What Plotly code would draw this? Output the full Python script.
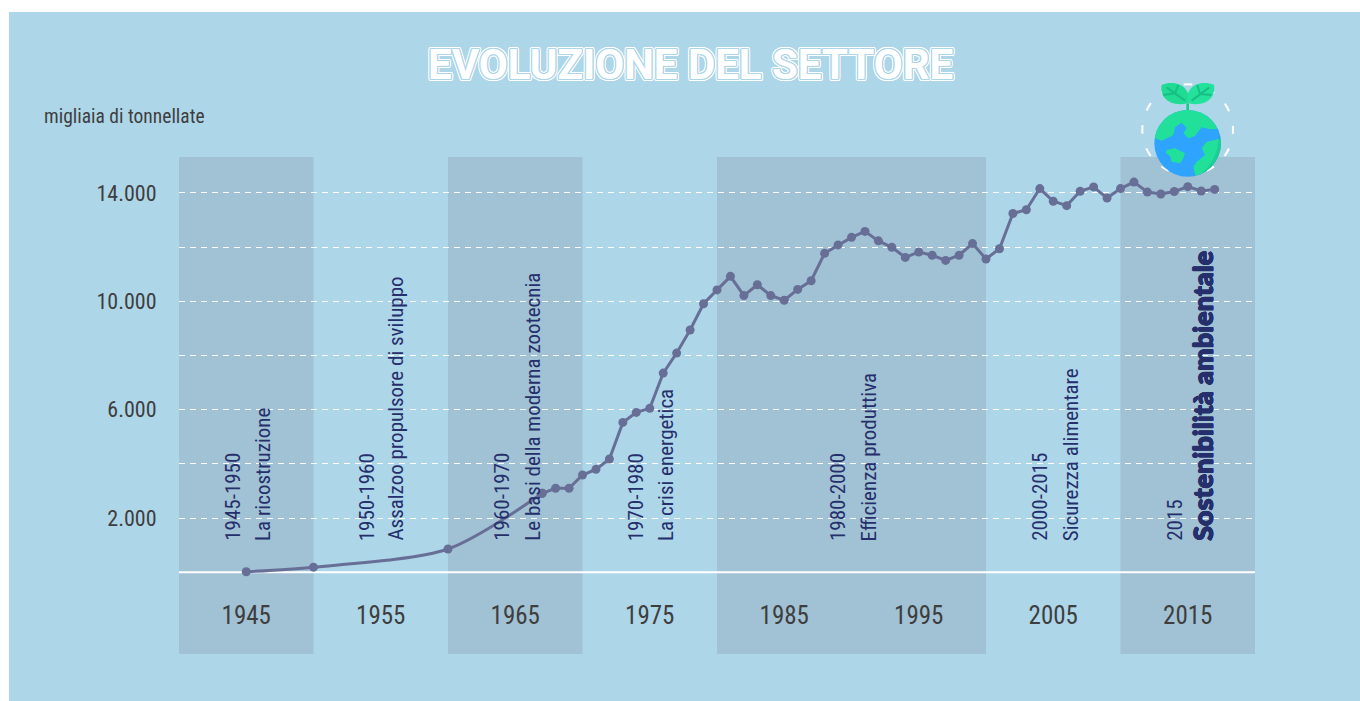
import base64
import math
import plotly.graph_objects as go

FONT = "Roboto Condensed"
BG = "#AED6E9"
TEXT = "#3E3E3E"
NAVY = "#252F6B"
LINE = "#686F96"

curve_years = [1945, 1950, 1960, 1967]
curve_values = [20, 190, 860, 2915]
years = list(range(1967, 2018))
values = [2915, 3100, 3100, 3590, 3800, 4180, 5530, 5900, 6050, 7350,
          8090, 8940, 9910, 10420, 10920, 10210, 10610, 10210, 10040, 10440,
          10760, 11770, 12080, 12360, 12580, 12230, 11990, 11620, 11820, 11700,
          11510, 11700, 12130, 11560, 11940, 13240, 13380, 14160, 13690, 13530,
          14060, 14220, 13810, 14160, 14400, 14030, 13960, 14050, 14230, 14070, 14130]

band_spans = [(1940, 1950), (1960, 1970), (1980, 2000), (2010, 2020)]
x_ticks = [1945, 1955, 1965, 1975, 1985, 1995, 2005, 2015]
y_ticks = [2000, 4000, 6000, 8000, 10000, 12000, 14000]
y_labels = ["2.000", "", "6.000", "", "10.000", "", "14.000"]
periods = ["1945-1950", "1950-1960", "1960-1970", "1970-1980", "1980-2000", "2000-2015", "2015"]
names = ["La ricostruzione", "Assalzoo propulsore di sviluppo", "Le basi della moderna zootecnia",
         "La crisi energetica", "Efficienza produttiva", "Sicurezza alimentare", "Sostenibilità ambientale"]
period_x = [1944, 1954, 1964, 1974, 1989, 2004, 2014]
name_x = [1946.2, 1956.1, 1966.3, 1976.2, 1991.3, 2006.3, 2016.05]

L, T, R, B = 179, 157, 1255, 654
W, H = R - L, B - T
def px(x): return (x - L) / W
def py(y): return (B - y) / H

def ring(radius, color, n=16):
    return ", ".join("%.2fpx %.2fpx 0 %s" % (radius * math.cos(2 * math.pi * i / n),
                                             radius * math.sin(2 * math.pi * i / n), color) for i in range(n))
inline_shadow = ring(1.1, BG) + ", " + ring(2.2, "white")
bold_shadow = ring(0.5, NAVY, 8)

icon = """<svg xmlns='http://www.w3.org/2000/svg' viewBox='0 0 420 360'>
<defs><clipPath id='c'><circle cx='203' cy='220' r='100'/></clipPath></defs>
<circle cx='203' cy='179' r='136' fill='none' stroke='white' stroke-width='6' stroke-dasharray='26 45.2' stroke-dashoffset='13'/>
<path d='M203 100V125' stroke='#1BC98A' stroke-width='8'/>
<path d='M203 100C150 112 118 82 125 45C165 28 218 50 203 100Z' fill='#1FDB94'/>
<path d='M205 100C258 112 288 82 282 45C242 28 190 50 205 100Z' fill='#22E29C'/>
<path d='M195 92L140 52M165 70L175 45M165 70L130 75M215 92L268 52M240 72L232 45M240 72L275 75' stroke='#18BE84' stroke-width='6' fill='none'/>
<g clip-path='url(#c)'>
<rect x='100' y='115' width='210' height='210' fill='#2EA3FF'/>
<path d='M100 115L310 115L302 176L270 178L245 172L225 198L205 205L190 190L200 175L185 158L165 172L160 195L125 212L105 205Z' fill='#21E09A'/>
<path d='M305 205L260 215L245 235L255 255L230 275L220 290L228 325L310 325Z' fill='#21E09A'/>
<path d='M140 240L165 235L195 250L190 265L180 280L155 275L150 258L138 250Z' fill='#21E09A'/>
<path d='M270 130C310 170 310 270 225 325L310 325L310 130Z' fill='#0C8F7A' fill-opacity='0.22'/>
</g></svg>"""
icon_uri = "data:image/svg+xml;base64," + base64.b64encode(icon.encode()).decode()

fig = go.Figure()
fig.add_trace(go.Scatter(x=curve_years, y=curve_values, mode="lines+markers",
                         line=dict(color=LINE, width=3, shape="spline", smoothing=0.8),
                         marker=dict(color=LINE, size=9), showlegend=False, hoverinfo="x+y"))
fig.add_trace(go.Scatter(x=years, y=values, mode="lines+markers",
                         line=dict(color=LINE, width=3),
                         marker=dict(color=LINE, size=9), showlegend=False, hoverinfo="x+y"))

shapes = [dict(type="rect", xref="paper", yref="paper", x0=px(9), x1=px(1360), y0=py(701), y1=py(12),
               fillcolor=BG, line_width=0, layer="below")]
for a, b in band_spans:
    shapes.append(dict(type="rect", xref="x", yref="paper", x0=a, x1=b, y0=0, y1=1,
                       fillcolor="rgba(142,163,180,0.4)", line_width=0, layer="between"))
shapes.append(dict(type="line", xref="paper", yref="y", x0=0, x1=1, y0=0, y1=0,
                   line=dict(color="white", width=2), layer="between"))

anns = []
for i in range(len(periods)):
    anns.append(dict(x=period_x[i], y=py(543), yref="paper", xref="x", text=periods[i], textangle=-90,
                     showarrow=False, xanchor="center", yanchor="bottom",
                     font=dict(family=FONT, size=21, color=NAVY)))
    last = i == len(periods) - 1
    font = dict(family="Lato", size=27, color=NAVY, weight=900, shadow=bold_shadow) if last else \
        dict(family=FONT, size=21, color=NAVY)
    anns.append(dict(x=name_x[i], y=py(543), yref="paper", xref="x", text=names[i], textangle=-90,
                     showarrow=False, xanchor="center", yanchor="bottom", font=font))
anns.append(dict(x=px(690), y=py(65), xref="paper", yref="paper", text="EVOLUZIONE DEL SETTORE",
                 showarrow=False, xanchor="center", yanchor="middle",
                 font=dict(family="Roboto", size=42, color="white", weight=700, shadow=inline_shadow)))
anns.append(dict(x=px(42), y=py(117), xref="paper", yref="paper", text="migliaia di tonnellate",
                 xanchor="left", yanchor="middle", showarrow=False, font=dict(family=FONT, size=19.5, color=TEXT)))

y_bottom, y_top = (572.3 - B) / 0.0271, (572.3 - T) / 0.0271
fig.update_layout(
    width=1360, height=701, margin=dict(l=L, r=1360 - R, t=T, b=701 - B),
    paper_bgcolor="white", plot_bgcolor="rgba(0,0,0,0)", showlegend=False,
    shapes=shapes, annotations=anns,
    images=[dict(source=icon_uri, xref="paper", yref="paper", x=px(1120), y=py(70),
                 sizex=140 / W, sizey=120 / H, xanchor="left", yanchor="top", sizing="stretch", layer="above")],
    xaxis=dict(range=[1940, 2020], tickvals=x_ticks, ticktext=[str(v) for v in x_ticks], showgrid=False,
               showline=False, zeroline=False, ticks="", anchor="free", position=py(598),
               tickfont=dict(family=FONT, size=25, color=TEXT)),
    yaxis=dict(range=[y_bottom, y_top], tickvals=y_ticks, ticktext=y_labels, showgrid=True,
               gridcolor="white", griddash="6px,5px", gridwidth=1, zeroline=False, showline=False,
               ticks="outside", ticklen=17, tickcolor="rgba(0,0,0,0)",
               tickfont=dict(family=FONT, size=22, color=TEXT)),
)
fig.write_html("out.html", config=dict(displayModeBar=False),
               post_script="document.body.style.margin='0';document.documentElement.style.overflow='hidden';")
